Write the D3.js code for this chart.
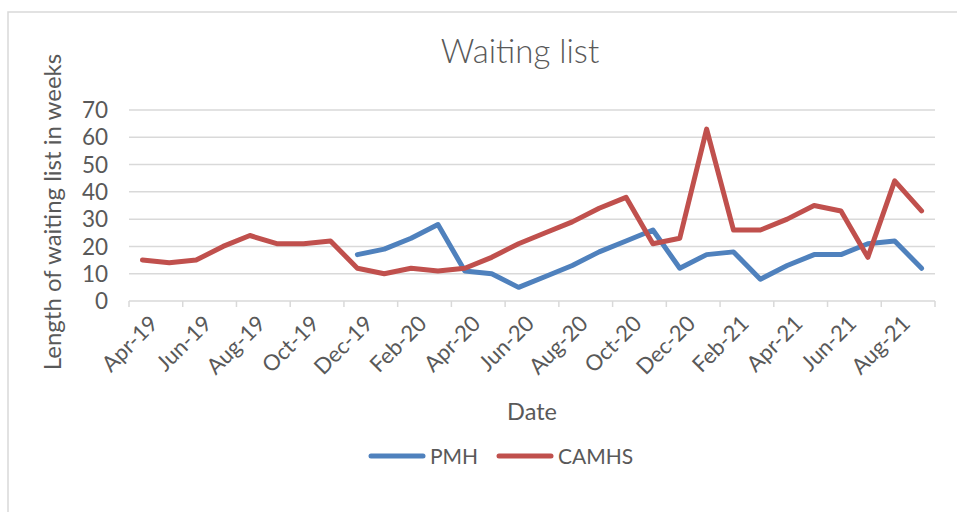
<!DOCTYPE html>
<html><head><meta charset="utf-8">
<script src="https://cdn.jsdelivr.net/npm/d3@7"></script>
<style>body{margin:0;background:#fff}svg{display:block}text{font-family:Lato,"Open Sans",sans-serif;fill:#595959}</style>
</head><body>
<svg id="c" width="957" height="512"></svg>
<script>
const months = ["Apr-19","May-19","Jun-19","Jul-19","Aug-19","Sep-19","Oct-19","Nov-19","Dec-19","Jan-20","Feb-20","Mar-20","Apr-20","May-20","Jun-20","Jul-20","Aug-20","Sep-20","Oct-20","Nov-20","Dec-20","Jan-21","Feb-21","Mar-21","Apr-21","May-21","Jun-21","Jul-21","Aug-21","Sep-21"];
const pmh = [null,null,null,null,null,null,null,null,17,19,23,28,11,10,5,9,13,18,22,26,12,17,18,8,13,17,17,21,22,12];
const camhs = [15,14,15,20,24,21,21,22,12,10,12,11,12,16,21,25,29,34,38,21,23,63,26,26,30,35,33,16,44,33];
const yTicks = [0,10,20,30,40,50,60,70];
const seriesNames = ["PMH","CAMHS"];
const colors = ["#4f81bd","#c0504d"];

const svg = d3.select("#c");
svg.append("rect").attr("x",8).attr("y",12).attr("width",960).attr("height",520)
  .attr("fill","none").attr("stroke","#d9d9d9").attr("stroke-width",1.5);

const L=129,R=935,T=110,B=301;
const x = d3.scaleBand().domain(months).range([L,R]);
const y = d3.scaleLinear().domain([0,70]).range([B,T]);

svg.append("g").selectAll("line").data(yTicks.filter(d=>d>0)).join("line")
  .attr("x1",L).attr("x2",R).attr("y1",d=>y(d)).attr("y2",d=>y(d))
  .attr("stroke","#d9d9d9").attr("stroke-width",1.5);

svg.append("g").selectAll("text").data(yTicks).join("text")
  .attr("x",108).attr("y",d=>y(d)).attr("dy","0.36em").attr("text-anchor","end")
  .attr("font-size",22.5).text(d=>d);

svg.append("line").attr("x1",L).attr("x2",R).attr("y1",B).attr("y2",B)
  .attr("stroke","#d9d9d9").attr("stroke-width",1.5);
const tickIdx = d3.range(0,31,2);
svg.append("g").selectAll("line").data(tickIdx).join("line")
  .attr("x1",i=>L+i*x.step()).attr("x2",i=>L+i*x.step()).attr("y1",B).attr("y2",B+6)
  .attr("stroke","#d9d9d9").attr("stroke-width",1.5);

const labelled = months.filter((m,i)=>i%2===0);
svg.append("g").selectAll("text").data(labelled).join("text")
  .attr("transform",m=>`translate(${x(m)+x.bandwidth()/2+6},${B+13}) rotate(-45)`)
  .attr("text-anchor","end").attr("dy","0.7em").attr("font-size",22).text(m=>m);

const line = d3.line().defined(d=>d!=null).x((d,i)=>x(months[i])+x.bandwidth()/2).y(d=>y(d));
[pmh,camhs].forEach((s,k)=>{
  svg.append("path").attr("d",line(s)).attr("fill","none").attr("stroke",colors[k])
    .attr("stroke-width",5).attr("stroke-linejoin","round").attr("stroke-linecap","round");
});

svg.append("text").attr("x",520).attr("y",63).attr("text-anchor","middle").attr("font-size",33).attr("font-weight",300).text("Waiting list");
svg.append("text").attr("x",532).attr("y",420).attr("text-anchor","middle").attr("font-size",23.5).text("Date");
svg.append("text").attr("transform","translate(61,212) rotate(-90)").attr("text-anchor","middle").attr("font-size",24).text("Length of waiting list in weeks");

const leg = [{x1:369,x2:425,tx:430},{x1:497,x2:553,tx:558}];
leg.forEach((l,k)=>{
  svg.append("line").attr("x1",l.x1+2).attr("x2",l.x2-2).attr("y1",456).attr("y2",456)
    .attr("stroke",colors[k]).attr("stroke-width",5).attr("stroke-linecap","round");
  svg.append("text").attr("x",l.tx).attr("y",456).attr("dy","0.36em").attr("font-size",21).text(seriesNames[k]);
});
</script>
</body></html>
